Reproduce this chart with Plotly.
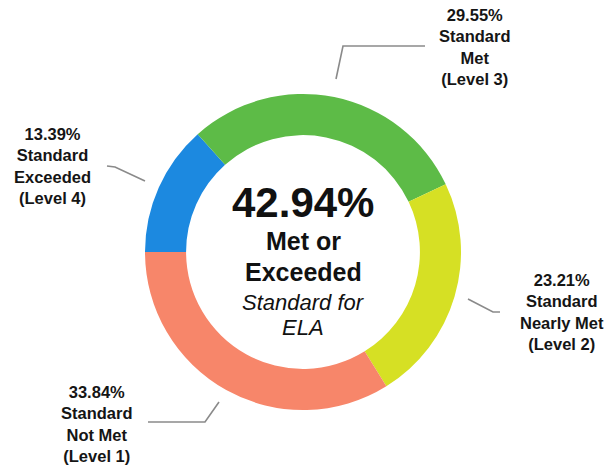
import plotly.graph_objects as go

W, H = 606, 465

levels = ["Standard Exceeded (Level 4)", "Standard Met (Level 3)",
          "Standard Nearly Met (Level 2)", "Standard Not Met (Level 1)"]
percents = [13.39, 29.55, 23.21, 33.84]
colors = ["#1C89E0", "#5DBB47", "#D6E024", "#F7866A"]
label_lines = [
    ["13.39%", "Standard", "Exceeded", "(Level 4)"],
    ["29.55%", "Standard", "Met", "(Level 3)"],
    ["23.21%", "Standard", "Nearly Met", "(Level 2)"],
    ["33.84%", "Standard", "Not Met", "(Level 1)"],
]
center_value = "42.94%"
center_lines = ["Met or", "Exceeded"]
center_sub = ["Standard for", "ELA"]


def px(x, y):
    return x / W, 1 - y / H


fig = go.Figure(go.Pie(
    labels=levels, values=percents, sort=False, direction="clockwise",
    rotation=-90, hole=0.74,
    marker=dict(colors=colors, line=dict(width=0)),
    textinfo="none", hoverinfo="label+percent", showlegend=False,
    domain=dict(x=[0, 1], y=[1 - 410 / H, 1 - 94 / H]),
))

FONT = "Liberation Sans, Arial, sans-serif"
label_pos = [(52, 166), (475, 47), (562, 312), (97, 424)]
for (lx, ly), lines in zip(label_pos, label_lines):
    x, y = px(lx, ly)
    fig.add_annotation(
        x=x, y=y, xref="paper", yref="paper", showarrow=False,
        text="<br>".join(f"<b>{t}</b>" for t in lines),
        font=dict(family=FONT, size=16.5, color="#151515"),
        xanchor="center", yanchor="middle", align="center",
    )

# leader lines
leaders = [
    [(107, 166), (115, 167), (145, 181)],
    [(425, 46), (343, 46), (336, 79)],
    [(468, 299), (493, 312), (500, 312)],
    [(148, 422), (205, 422), (219, 402)],
]
for pts in leaders:
    path = ""
    for i, (a, b) in enumerate(pts):
        x, y = px(a, b)
        path += ("M" if i == 0 else " L") + f"{x:.5f},{y:.5f}"
    fig.add_shape(type="path", path=path, xref="paper", yref="paper",
                  line=dict(color="#8a8a8a", width=1.6))

# center text
x, y = px(303, 203)
fig.add_annotation(x=x, y=y, xref="paper", yref="paper", showarrow=False,
                   text=f"<b>{center_value}</b>",
                   font=dict(family=FONT, size=42, color="#111111"),
                   xanchor="center", yanchor="middle")
for t, cy in zip(center_lines, [241, 272]):
    x, y = px(303, cy)
    fig.add_annotation(x=x, y=y, xref="paper", yref="paper", showarrow=False,
                       text=f"<b>{t}</b>",
                       font=dict(family=FONT, size=25, color="#111111"),
                       xanchor="center", yanchor="middle")
for t, cy in zip(center_sub, [302, 327]):
    x, y = px(303, cy)
    fig.add_annotation(x=x, y=y, xref="paper", yref="paper", showarrow=False,
                       text=f"<i>{t}</i>",
                       font=dict(family=FONT, size=22, color="#111111"),
                       xanchor="center", yanchor="middle")

fig.update_layout(
    width=W, height=H, margin=dict(l=0, r=0, t=0, b=0),
    paper_bgcolor="white", plot_bgcolor="white",
)
fig.write_html(
    "out.html",
    config=dict(displayModeBar=False),
    post_script="document.body.style.margin='0';document.body.style.overflow='hidden';",
)
